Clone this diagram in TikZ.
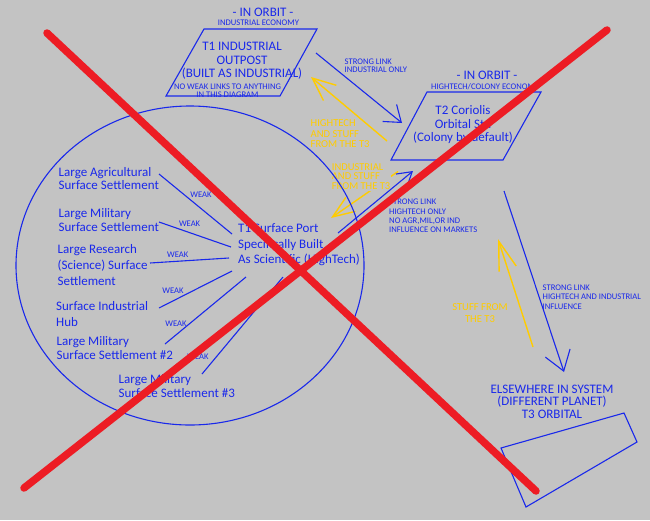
\documentclass[tikz,border=0pt]{standalone}
\usepackage{fontspec}
\setmainfont{Carlito}
\usetikzlibrary{arrows.meta}
\definecolor{bggray}{RGB}{195,195,195}
\definecolor{pblue}{RGB}{25,40,235}
\definecolor{pgold}{RGB}{255,204,0}
\definecolor{pred}{RGB}{237,28,36}
\begin{document}
\begin{tikzpicture}[x=1pt,y=-1pt,
		blueline/.style={draw=pblue,line width=1.1pt},
		goldline/.style={draw=pgold,line width=1.4pt},
		crossline/.style={draw=pred,line width=7.5pt,line cap=round},
		openhead/.style 2 args={-{Straight Barb[length=#1pt,width=#2pt]}},
		bigtext/.style={text=pblue,inner sep=0pt,font=\fontsize{13}{13.5}\selectfont},
		smalltext/.style={text=pblue,inner sep=0pt,align=left,font=\fontsize{8.6}{9.3}\selectfont},
		goldtext/.style={text=pgold,inner sep=1pt,align=left,font=\fontsize{10.6}{10.5}\selectfont}]
	\fill[bggray] (0,0) rectangle (650,520);
	\useasboundingbox (0,0) rectangle (650,520);

	\coordinate (T1a) at (204,29);
	\coordinate (T1b) at (317,29);
	\coordinate (T1c) at (280,96);
	\coordinate (T1d) at (166,96);
	\coordinate (T2a) at (427,92);
	\coordinate (T2b) at (541,92);
	\coordinate (T2c) at (503,160);
	\coordinate (T2d) at (391,160);
	\coordinate (T3a) at (501,448);
	\coordinate (T3b) at (624,413);
	\coordinate (T3c) at (637,442);
	\coordinate (T3d) at (526,507);

	% arrow ends
	\coordinate (T1out) at (316,53);
	\coordinate (T2in) at (402,123);
	\coordinate (T2back) at (387,141);
	\coordinate (T1in) at (311,77);
	\coordinate (T2drop) at (398,171.5);
	\coordinate (Pin) at (331,218);
	\coordinate (Pout) at (338,233);
	\coordinate (T2low) at (413,171);
	\coordinate (T2out) at (504,191);
	\coordinate (T3in) at (564,372);
	\coordinate (T3out) at (533,347);
	\coordinate (T3tip) at (498,239);

	\draw[goldline,openhead={23}{20}] (T2back) -- (T1in);
	\draw[goldline,openhead={22}{17}] (T2drop) -- (Pin);
	\draw[goldline,openhead={29}{18}] (T3out) -- (T3tip);
	\node[goldtext,anchor=west] (hitech) at (309.5,134) {HIGHTECH\\AND STUFF\\FROM THE T3};
	\node[goldtext,fill=bggray,anchor=west,font=\fontsize{10.5}{9.7}\selectfont] (indus) at (330.7,176.4) {INDUSTRIAL\\AND STUFF\\FROM THE T3};
	\node[goldtext,align=center,font=\fontsize{10.6}{12.6}\selectfont] (stuff) at (480,313) {STUFF FROM\\THE T3};

	\draw[blueline] (T1a) -- (T1b) -- (T1c) -- (T1d) -- cycle;
	\draw[blueline] (T2a) -- (T2b) -- (T2c) -- (T2d) -- cycle;
	\draw[blueline] (T3a) -- (T3b) -- (T3c) -- (T3d) -- cycle;
	\draw[blueline] (190,265.5) ellipse [x radius=174pt,y radius=159.5pt];
	\draw[blueline,openhead={15}{22}] (T1out) -- (T2in);
	\draw[blueline,openhead={14}{17}] (Pout) -- (T2low);
	\draw[blueline,openhead={19}{26}] (T2out) -- (T3in);

	\node[bigtext] (orbit1) at (263,12.3) {- IN ORBIT -};
	\node[smalltext] (econ1) at (258.4,22.7) {INDUSTRIAL ECONOMY};
	\node[bigtext,align=center] (t1) at (242,61) {T1 INDUSTRIAL\\OUTPOST\\(BUILT AS INDUSTRIAL)};
	\node[smalltext,align=center,font=\fontsize{8.6}{7.6}\selectfont] (t1note) at (227.5,91) {NO WEAK LINKS TO ANYTHING\\IN THIS DIAGRAM};
	\node[smalltext,anchor=west,font=\fontsize{8.6}{8.3}\selectfont] (link12) at (344.5,66) {STRONG LINK\\INDUSTRIAL ONLY};
	\node[bigtext] (orbit2) at (487,75) {- IN ORBIT -};
	\node[smalltext,anchor=west] (econ2) at (431,86.7) {HIGHTECH/COLONY ECONOMY};
	\node[bigtext,align=center,font=\fontsize{13}{13.6}\selectfont] (t2) at (463,124.6) {T2 Coriolis\\Orbital Stn\\(Colony by default)};
	\node[smalltext,anchor=west] (link2p) at (389,216) {STRONG LINK\\HIGHTECH ONLY\\NO AGR,MIL,OR IND\\INFLUENCE ON MARKETS};
	\node[smalltext,anchor=west,font=\fontsize{8.6}{9.7}\selectfont] (link23) at (542.5,297) {STRONG LINK\\HIGHTECH AND INDUSTRIAL\\INFLUENCE};
	\node[bigtext,align=center,font=\fontsize{13}{12.5}\selectfont] (t3) at (552,401.7) {ELSEWHERE IN SYSTEM\\(DIFFERENT PLANET)\\T3 ORBITAL};

	\node[bigtext,align=left,anchor=west,font=\fontsize{13}{15.5}\selectfont] (port) at (238,245) {T1 Surface Port\\Specifically Built\\As Scientific (HighTech)};
	\node[bigtext,align=left,anchor=west,font=\fontsize{13}{13}\selectfont] (agri) at (58.5,178.5) {Large Agricultural\\Surface Settlement};
	\node[bigtext,align=left,anchor=west,font=\fontsize{13}{14}\selectfont] (mil1) at (58.5,219.7) {Large Military\\Surface Settlement};
	\node[bigtext,align=left,anchor=west,font=\fontsize{13}{16}\selectfont] (res) at (57.5,265.3) {Large Research\\(Science) Surface\\Settlement};
	\node[bigtext,align=left,anchor=west,font=\fontsize{13}{16}\selectfont] (ind) at (56,313.7) {Surface Industrial\\Hub};
	\node[bigtext,align=left,anchor=west,font=\fontsize{13}{14.3}\selectfont] (mil2) at (56.5,347.8) {Large Military\\Surface Settlement \#2};
	\node[bigtext,align=left,anchor=west,font=\fontsize{13}{14}\selectfont] (mil3) at (118.5,386.3) {Large Military\\Surface Settlement \#3};

	\coordinate (W1) at (159,174);
	\coordinate (P1) at (232,234);
	\coordinate (W2) at (159,222);
	\coordinate (P2) at (231,247);
	\coordinate (W3) at (150,263);
	\coordinate (P3) at (229,258);
	\coordinate (W4) at (159,308);
	\coordinate (P4) at (232,271);
	\coordinate (W5) at (165,344);
	\coordinate (P5) at (246,277);
	\coordinate (W6) at (202,374);
	\coordinate (P6) at (283,277);
	\draw[blueline] (W1) -- (P1);
	\draw[blueline] (W2) -- (P2);
	\draw[blueline] (W3) -- (P3);
	\draw[blueline] (W4) -- (P4);
	\draw[blueline] (W5) -- (P5);
	\draw[blueline] (W6) -- (P6);
	\node[smalltext] (weak1) at (201,194.5) {WEAK};
	\node[smalltext] (weak2) at (189.6,223.5) {WEAK};
	\node[smalltext] (weak3) at (177.8,254.5) {WEAK};
	\node[smalltext] (weak4) at (173,291) {WEAK};
	\node[smalltext] (weak5) at (176,324) {WEAK};
	\node[smalltext] (weak6) at (198,356.7) {WEAK};

	\coordinate (X1) at (47,33);
	\coordinate (X2) at (536,491);
	\coordinate (X3) at (607,30);
	\coordinate (X4) at (24,488);
	\draw[crossline] (X1) -- (X2);
	\draw[crossline] (X3) -- (X4);
\end{tikzpicture}
\end{document}
